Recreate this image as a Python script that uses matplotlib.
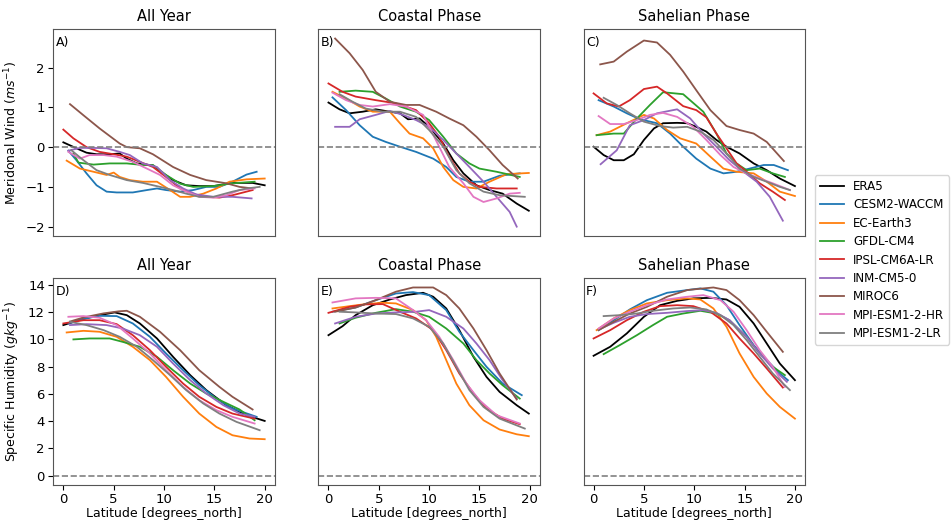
import matplotlib
matplotlib.use("Agg")
import matplotlib.pyplot as plt

models = ["ERA5", "CESM2-WACCM", "EC-Earth3", "GFDL-CM4", "IPSL-CM6A-LR",
          "INM-CM5-0", "MIROC6", "MPI-ESM1-2-HR", "MPI-ESM1-2-LR"]
colors = ["black", "tab:blue", "tab:orange", "tab:green", "tab:red",
          "tab:purple", "tab:brown", "tab:pink", "tab:gray"]

titles = ["All Year", "Coastal Phase", "Sahelian Phase"]
panel_letters = ["A)", "B)", "C)", "D)", "E)", "F)"]

# ---- Meridional wind, All Year (lat, value) ----
wind_all = {
    "ERA5": ([0, 1.3, 2.3, 3.3, 4.6, 5.6, 6.3, 7.3, 8.9, 9.9, 10.9, 12.2, 13.5, 14.9, 16.8, 18.8, 20],
             [0.12, -0.03, -0.14, -0.18, -0.18, -0.16, -0.29, -0.41, -0.46, -0.66, -0.83, -0.96, -0.98, -0.98, -0.9, -0.9, -0.96]),
    "CESM2-WACCM": ([0.5, 1.3, 2.3, 3.3, 4.3, 5.3, 6.9, 8.3, 9.3, 10.2, 11.6, 12.9, 14.2, 15.5, 16.8, 18.2, 19.2],
                    [-0.09, -0.33, -0.66, -0.96, -1.12, -1.14, -1.14, -1.08, -1.04, -1.08, -1.12, -1.08, -1.0, -1.0, -0.87, -0.69, -0.62]),
    "EC-Earth3": ([0.33, 1.65, 3, 4.3, 5, 5.6, 6.6, 7.9, 9.3, 10.6, 11.6, 12.6, 13.9, 15.2, 16.5, 18.2, 20],
                  [-0.34, -0.54, -0.62, -0.7, -0.64, -0.75, -0.83, -0.87, -0.87, -1.08, -1.25, -1.25, -1.17, -1.04, -0.87, -0.81, -0.79]),
    "GFDL-CM4": ([1, 1.5, 3, 4.6, 6.3, 7.9, 8.9, 10.2, 11.6, 12.9, 14.9, 16.8, 19],
                 [-0.16, -0.39, -0.44, -0.41, -0.41, -0.45, -0.45, -0.7, -0.92, -1.0, -0.98, -0.91, -0.87]),
    "IPSL-CM6A-LR": ([0, 1, 2.3, 3.6, 5, 6.3, 7.6, 8.9, 10.2, 11.6, 12.9, 14.2, 15.5, 16.8, 18.8],
                     [0.44, 0.22, 0, -0.12, -0.18, -0.24, -0.37, -0.5, -0.75, -1.04, -1.18, -1.25, -1.27, -1.21, -1.08]),
    "INM-CM5-0": ([0.5, 1.65, 3, 4.3, 5.6, 6.6, 7.9, 9.3, 10.6, 11.9, 13.2, 14.9, 16.8, 18.7],
                  [-0.09, -0.02, -0.02, -0.03, -0.12, -0.2, -0.41, -0.5, -0.83, -1.04, -1.19, -1.25, -1.25, -1.29]),
    "MIROC6": ([0.66, 2, 3.6, 5.6, 6.3, 7.6, 8.9, 10.9, 12.6, 14.2, 16.2, 17.5, 18.8],
               [1.08, 0.8, 0.47, 0.09, 0, -0.03, -0.18, -0.5, -0.7, -0.83, -0.91, -1.0, -1.04]),
    "MPI-ESM1-2-HR": ([0.5, 1.65, 2.6, 4, 5.3, 6.9, 8.3, 9.6, 10.9, 12.2, 13.5, 14.9, 16.2, 17.5, 19],
                      [-0.12, -0.29, -0.2, -0.2, -0.24, -0.37, -0.54, -0.7, -0.96, -1.12, -1.25, -1.27, -1.21, -1.08, -1.04]),
    "MPI-ESM1-2-LR": ([0.8, 2, 3.3, 4.6, 6.3, 7.9, 9.6, 10.9, 12.2, 13.5, 14.9, 16.8, 18.2, 19.5],
                      [-0.08, -0.33, -0.58, -0.7, -0.83, -0.9, -1.0, -1.08, -1.17, -1.25, -1.25, -1.12, -1.04, -1.0]),
}

# ---- Meridional wind, Coastal Phase ----
wind_coastal = {
    "ERA5": ([0, 1.1, 2.1, 3.4, 4.7, 6.1, 7.1, 7.9, 9.05, 10, 11.4, 12.4, 13.4, 14.7, 16, 17.3, 18.7, 19.9],
             [1.12, 0.95, 0.85, 0.89, 0.95, 0.89, 0.85, 0.7, 0.72, 0.51, 0.09, -0.33, -0.66, -0.96, -1.08, -1.17, -1.42, -1.6]),
    "CESM2-WACCM": ([0.4, 1.75, 3.1, 4.4, 5.7, 7.1, 8.7, 10.4, 11.7, 12.7, 14, 15.4, 17, 19],
                    [1.25, 0.93, 0.55, 0.26, 0.13, 0.01, -0.12, -0.29, -0.5, -0.75, -0.87, -0.87, -0.72, -0.66]),
    "EC-Earth3": ([0.4, 1.75, 3.1, 4.4, 6.1, 7.1, 8.05, 9.4, 10.4, 11.4, 12.4, 13.4, 14.7, 16, 17.7, 19.9],
                  [1.39, 1.22, 1.02, 0.89, 0.89, 0.6, 0.34, 0.22, -0.03, -0.5, -0.83, -1.0, -1.04, -0.87, -0.68, -0.65]),
    "GFDL-CM4": ([1.1, 2.7, 4.4, 5.7, 7.1, 8.7, 10, 11.4, 12.7, 14, 15, 16.7, 19],
                 [1.39, 1.42, 1.39, 1.22, 1.02, 0.89, 0.68, 0.26, -0.16, -0.41, -0.54, -0.62, -0.75]),
    "IPSL-CM6A-LR": ([0, 1.4, 2.7, 4.7, 6.7, 8.7, 10, 11, 12, 13, 14, 15, 16.7, 18.7],
                     [1.6, 1.39, 1.27, 1.18, 1.1, 0.93, 0.6, 0.26, -0.24, -0.66, -0.87, -1.0, -1.04, -1.04]),
    "INM-CM5-0": ([0.66, 2.1, 3.1, 4.7, 6.1, 7.4, 8.7, 10, 11.4, 12.7, 14, 15.4, 16.7, 18, 18.7],
                  [0.51, 0.51, 0.7, 0.81, 0.91, 0.81, 0.68, 0.51, 0.18, -0.16, -0.5, -0.87, -1.25, -1.63, -2.0]),
    "MIROC6": ([0.66, 2.1, 3.4, 4.7, 6.1, 7.7, 9.05, 10.7, 12, 13.4, 14.7, 16, 17.3, 18.8],
               [2.73, 2.36, 1.94, 1.39, 1.14, 1.06, 1.06, 0.89, 0.72, 0.55, 0.26, -0.08, -0.45, -0.79]),
    "MPI-ESM1-2-HR": ([0.4, 1.75, 3.1, 4.4, 6.1, 7.7, 9.4, 10, 11, 12, 13.4, 14.4, 15.4, 16.7, 18, 19],
                      [1.37, 1.18, 1.06, 1.02, 1.08, 1.02, 0.81, 0.51, 0.01, -0.5, -0.91, -1.25, -1.38, -1.29, -1.17, -1.15]),
    "MPI-ESM1-2-LR": ([1.1, 2.4, 3.7, 5.4, 7.1, 8.7, 10, 11.4, 12.7, 14, 15.4, 17, 19.5],
                      [1.33, 1.14, 0.97, 0.89, 0.89, 0.76, 0.43, 0.01, -0.58, -0.91, -1.12, -1.21, -1.25]),
}

# ---- Meridional wind, Sahelian Phase ----
wind_sahelian = {
    "ERA5": ([0, 1, 2, 3, 4, 5, 6, 6.9, 8.3, 9.3, 10.2, 11.2, 12.2, 13.2, 14.5, 15.9, 17.2, 18.5, 20],
             [0.01, -0.2, -0.33, -0.33, -0.18, 0.18, 0.47, 0.6, 0.61, 0.6, 0.51, 0.39, 0.18, 0.01, -0.16, -0.41, -0.58, -0.79, -0.98]),
    "CESM2-WACCM": ([0.5, 2, 3.3, 4.6, 6.3, 7.6, 8.9, 10.2, 11.6, 12.9, 14.2, 15.5, 16.9, 17.9, 19.3],
                    [1.18, 1.02, 0.85, 0.7, 0.6, 0.34, 0.01, -0.29, -0.54, -0.66, -0.62, -0.54, -0.45, -0.45, -0.58]),
    "EC-Earth3": ([0.3, 1.65, 3.3, 5, 6, 7.3, 8.6, 10.2, 11.6, 12.9, 14.2, 15.9, 17.2, 18.5, 20],
                  [0.3, 0.39, 0.6, 0.81, 0.72, 0.43, 0.22, 0.09, -0.24, -0.54, -0.62, -0.66, -0.87, -1.12, -1.23]),
    "GFDL-CM4": ([0.3, 2, 3, 4.3, 5.6, 6.9, 8.9, 10.9, 12.2, 13.2, 14.2, 15.2, 16.5, 17.8, 19],
                 [0.3, 0.34, 0.34, 0.72, 1.06, 1.38, 1.33, 0.89, 0.34, -0.16, -0.41, -0.58, -0.54, -0.66, -0.75]),
    "IPSL-CM6A-LR": ([0, 1.3, 2.5, 3.6, 5, 6.3, 7.3, 8.9, 10.2, 11.2, 12.2, 13.2, 14.2, 15.2, 16.5, 17.8, 19],
                     [1.35, 1.1, 1.02, 1.18, 1.46, 1.52, 1.35, 1.03, 0.93, 0.75, 0.34, -0.03, -0.41, -0.62, -0.91, -1.12, -1.33]),
    "INM-CM5-0": ([0.7, 2.3, 3.6, 5, 6.3, 8.3, 9.6, 10.9, 12.2, 13.5, 14.9, 16.2, 17.5, 18.8],
                  [-0.43, -0.08, 0.55, 0.68, 0.85, 0.95, 0.72, 0.34, 0.01, -0.33, -0.62, -0.87, -1.25, -1.85]),
    "MIROC6": ([0.66, 2, 3.3, 5, 6.3, 7.6, 8.9, 10.2, 11.6, 13.2, 14.5, 15.9, 17.2, 18.9],
               [2.08, 2.15, 2.4, 2.68, 2.63, 2.32, 1.9, 1.43, 0.93, 0.53, 0.43, 0.34, 0.13, -0.35]),
    "MPI-ESM1-2-HR": ([0.5, 1.65, 3, 4.3, 5.6, 6.9, 8.3, 9.9, 11.2, 12.6, 13.9, 15.2, 16.5, 17.8, 19.5],
                      [0.78, 0.58, 0.58, 0.68, 0.81, 0.86, 0.76, 0.51, 0.18, -0.2, -0.5, -0.66, -0.79, -0.91, -1.08]),
    "MPI-ESM1-2-LR": ([1, 2.3, 3.6, 5, 6.6, 7.9, 9.3, 10.6, 11.9, 13.2, 14.5, 15.9, 17.2, 18.5, 19.5],
                      [1.24, 1.06, 0.85, 0.64, 0.53, 0.49, 0.51, 0.39, 0.18, -0.16, -0.54, -0.75, -0.87, -1.0, -1.08]),
}

# ---- Specific humidity, All Year ----
hum_all = {
    "ERA5": ([0, 2, 3.6, 5.1, 6.3, 7.6, 9.3, 10.9, 12.6, 14.2, 16.2, 18.2, 20],
             [11.04, 11.5, 11.77, 11.97, 11.77, 11.16, 10.06, 8.71, 7.37, 6.27, 5.16, 4.43, 4.01]),
    "CESM2-WACCM": ([0.5, 2, 3.6, 5.3, 6.9, 8.6, 10.2, 11.9, 13.5, 15.2, 16.8, 19.2],
                    [11.16, 11.5, 11.72, 11.7, 11.16, 10.18, 8.96, 7.73, 6.63, 5.65, 4.92, 4.31]),
    "EC-Earth3": ([0.33, 2, 3.6, 5.3, 6.9, 8.6, 10.2, 11.9, 13.5, 15.2, 16.8, 18.5, 20],
                  [10.5, 10.62, 10.55, 10.18, 9.45, 8.47, 7.24, 5.78, 4.55, 3.57, 2.96, 2.72, 2.67]),
    "GFDL-CM4": ([1, 2.6, 4.6, 5.9, 7.6, 9.3, 10.9, 12.6, 14.2, 15.9, 17.5, 19],
                 [9.99, 10.06, 10.06, 9.81, 9.45, 8.71, 7.73, 6.75, 6.02, 5.41, 4.85, 4.06]),
    "IPSL-CM6A-LR": ([0, 2, 3.6, 5.3, 6.9, 8.6, 10.2, 11.9, 13.5, 15.2, 16.8, 19],
                     [11.16, 11.4, 11.4, 11.11, 10.3, 9.2, 7.98, 6.75, 5.78, 5.04, 4.55, 4.18]),
    "INM-CM5-0": ([0.66, 2.3, 4.3, 5.9, 7.6, 9.3, 10.9, 12.6, 14.2, 15.9, 17.5, 19],
                  [11.04, 11.11, 11.04, 10.79, 10.3, 9.45, 8.22, 7.0, 6.02, 5.16, 4.55, 4.31]),
    "MIROC6": ([0.66, 2, 4, 5.5, 6.3, 7.6, 9.6, 11.6, 13.5, 15.5, 16.8, 18.8],
               [11.3, 11.6, 11.9, 12.05, 12.09, 11.65, 10.55, 9.2, 7.73, 6.51, 5.78, 4.85]),
    "MPI-ESM1-2-HR": ([0.5, 2, 3.6, 5.3, 6.9, 8.6, 10.2, 11.9, 13.5, 15.2, 16.8, 19],
                      [11.65, 11.7, 11.58, 11.04, 10.06, 8.96, 7.73, 6.51, 5.53, 4.8, 4.31, 3.82]),
    "MPI-ESM1-2-LR": ([0.66, 2.3, 4, 5.6, 7.3, 8.9, 10.6, 12.2, 13.9, 15.5, 17.2, 19.5],
                      [11.28, 11.04, 10.67, 10.18, 9.45, 8.47, 7.37, 6.27, 5.29, 4.55, 3.94, 3.33]),
}

# ---- Specific humidity, Coastal Phase ----
hum_coastal = {
    "ERA5": ([0, 1.4, 2.7, 4.4, 6.1, 7.7, 9.4, 10.4, 11.7, 13, 14.4, 15.7, 17, 18.7, 19.9],
             [10.3, 10.96, 11.77, 12.5, 12.92, 13.24, 13.41, 13.12, 12.26, 10.67, 8.71, 7.24, 6.14, 5.16, 4.55]),
    "CESM2-WACCM": ([0.4, 2.7, 4.7, 6.7, 8.4, 10, 11.7, 13, 14.4, 15.7, 17.3, 19.2],
                    [12.02, 12.33, 12.87, 13.36, 13.46, 13.24, 12.14, 10.55, 9.2, 7.98, 6.75, 5.9]),
    "EC-Earth3": ([0.4, 2.1, 3.7, 5.4, 6.7, 8.4, 9.7, 10.7, 11.7, 12.7, 14, 15.4, 17, 18.7, 19.9],
                  [12.26, 12.43, 12.58, 12.68, 12.63, 12.14, 11.4, 10.18, 8.47, 6.75, 5.16, 4.06, 3.38, 3.03, 2.89]),
    "GFDL-CM4": ([1.1, 2.7, 4.7, 6.7, 8.4, 10, 11.7, 13.4, 14.7, 16, 17.3, 19],
                 [11.16, 11.58, 11.94, 12.21, 12.02, 11.65, 10.79, 9.69, 8.47, 7.49, 6.63, 5.65]),
    "IPSL-CM6A-LR": ([0, 2.1, 3.7, 5.4, 7.1, 8.7, 10.4, 11.7, 13, 14.4, 15.7, 17.3, 19],
                     [11.94, 12.38, 12.56, 12.58, 12.02, 11.53, 10.67, 9.2, 7.49, 6.02, 4.92, 4.18, 3.77]),
    "INM-CM5-0": ([0.66, 2.7, 4.7, 6.7, 8.7, 10, 11.7, 13.4, 14.7, 16, 17.3, 18.7],
                  [11.16, 11.65, 11.89, 11.97, 12.02, 12.14, 11.65, 10.79, 9.69, 8.47, 7.0, 5.65]),
    "MIROC6": ([0.66, 2.7, 4.7, 6.7, 8.4, 10.4, 11.7, 13, 14.4, 15.7, 17, 18.7],
               [12.02, 12.33, 12.87, 13.49, 13.8, 13.8, 13.24, 12.26, 10.79, 9.2, 7.49, 5.58]),
    "MPI-ESM1-2-HR": ([0.4, 2.7, 4.7, 6.7, 8.4, 9.7, 11, 12.4, 13.7, 15, 16.7, 19],
                      [12.7, 13.0, 13.04, 13.0, 12.14, 11.4, 10.18, 8.47, 6.75, 5.53, 4.43, 3.82]),
    "MPI-ESM1-2-LR": ([1.1, 2.7, 4.7, 6.7, 8.4, 10, 11.4, 12.7, 14, 15.4, 17, 19.5],
                      [12.02, 11.97, 11.89, 11.85, 11.53, 10.92, 9.69, 7.98, 6.27, 5.04, 4.18, 3.45]),
}

# ---- Specific humidity, Sahelian Phase ----
hum_sahelian = {
    "ERA5": ([0, 1.65, 3.3, 5, 6.6, 8.3, 9.9, 11.6, 13.2, 14.5, 15.9, 17.2, 18.5, 20],
             [8.79, 9.45, 10.43, 11.65, 12.5, 12.82, 13.0, 13.04, 12.92, 12.38, 11.16, 9.69, 8.22, 7.0]),
    "CESM2-WACCM": ([0.5, 2, 3.6, 5.3, 7.3, 9.3, 10.6, 11.9, 13.2, 14.5, 15.9, 17.2, 18.5, 19.3],
                    [10.67, 11.4, 12.19, 12.87, 13.41, 13.61, 13.73, 13.49, 12.5, 11.04, 9.57, 8.47, 7.49, 7.0]),
    "EC-Earth3": ([0.3, 2, 3.6, 5.3, 7.3, 9.3, 10.6, 11.9, 13.2, 14.5, 15.9, 17.2, 18.5, 20],
                  [10.67, 11.53, 12.14, 12.63, 12.87, 13.0, 12.92, 12.26, 10.92, 8.96, 7.24, 6.02, 5.04, 4.18]),
    "GFDL-CM4": ([1, 2.6, 4.3, 5.9, 7.3, 8.9, 10.6, 12.2, 13.5, 15.2, 16.5, 17.8, 19],
                 [8.91, 9.57, 10.3, 11.04, 11.65, 11.89, 12.09, 11.89, 11.4, 10.18, 8.96, 7.98, 7.37]),
    "IPSL-CM6A-LR": ([0, 1.65, 3.3, 5, 6.6, 8.3, 9.9, 11.6, 13.2, 14.5, 15.9, 17.2, 18.8],
                     [10.06, 10.67, 11.4, 12.02, 12.43, 12.5, 12.43, 12.02, 11.16, 10.06, 8.96, 7.86, 6.46]),
    "INM-CM5-0": ([0.5, 2, 3.6, 5.3, 7.3, 9.3, 10.9, 12.2, 13.5, 15.2, 16.5, 17.8, 19.2],
                  [10.72, 11.21, 11.65, 11.85, 11.94, 12.07, 12.14, 11.94, 11.4, 10.18, 8.96, 7.86, 6.88]),
    "MIROC6": ([0.5, 2, 3.6, 5.3, 7.3, 9.3, 10.9, 11.9, 13.2, 14.5, 15.9, 17.2, 18.8],
               [10.67, 11.28, 11.89, 12.38, 13.12, 13.61, 13.73, 13.8, 13.61, 12.87, 11.77, 10.55, 9.08]),
    "MPI-ESM1-2-HR": ([0.5, 2, 3.6, 5.3, 7.3, 9.3, 10.9, 12.6, 13.9, 15.2, 16.5, 17.8, 19],
                      [10.79, 11.53, 12.02, 12.5, 12.92, 13.12, 13.24, 12.87, 12.02, 10.67, 9.2, 7.98, 6.51]),
    "MPI-ESM1-2-LR": ([1, 2.6, 4.3, 5.9, 7.9, 9.6, 11.2, 12.6, 13.9, 15.2, 16.5, 17.8, 19.5],
                      [11.7, 11.77, 11.89, 12.09, 12.26, 12.33, 12.19, 11.77, 11.04, 9.94, 8.71, 7.49, 6.27]),
}

panels = [wind_all, wind_coastal, wind_sahelian, hum_all, hum_coastal, hum_sahelian]

fig, axes = plt.subplots(2, 3, figsize=(9.53, 5.2), dpi=100, sharex=True, sharey="row")
fig.subplots_adjust(left=0.0559, right=0.8447, bottom=0.0673, top=0.944,
                    wspace=0.197, hspace=0.203)

for i, (ax, data) in enumerate(zip(axes.flat, panels)):
    for m, c in zip(models, colors):
        lat, val = data[m]
        ax.plot(lat, val, color=c, lw=1.3, label=m)
    ax.axhline(0, color="gray", ls="--", lw=1.2)
    ax.text(0.012, 0.965, panel_letters[i], transform=ax.transAxes,
            ha="left", va="top", fontsize=9)
    ax.set_title(titles[i % 3], fontsize=10.5)
    if i < 3:
        ax.tick_params(axis="x", bottom=False, labelbottom=False)
    else:
        ax.set_xlabel("Latitude [degrees_north]", fontsize=9, labelpad=0.5)
    if i % 3 != 0:
        ax.tick_params(axis="y", left=False, labelleft=False)
    ax.tick_params(labelsize=9.5, pad=2.5)
    for s in ax.spines.values():
        s.set_color("#555555")

axes[0, 0].set_ylabel("Meridonal Wind ($ms^{-1}$)", fontsize=9)
axes[1, 0].set_ylabel("Specific Humidity ($gkg^{-1}$)", fontsize=9)
axes[1, 0].set_xticks([0, 5, 10, 15, 20])
axes[0, 0].set_yticks([-2, -1, 0, 1, 2])
axes[1, 0].set_yticks([0, 2, 4, 6, 8, 10, 12, 14])

handles, labels = axes[0, 0].get_legend_handles_labels()
fig.legend(handles, labels, loc="center left", bbox_to_anchor=(0.849, 0.5),
           fontsize=8.6, labelspacing=0.45)

fig.savefig("out.png", dpi=100)
